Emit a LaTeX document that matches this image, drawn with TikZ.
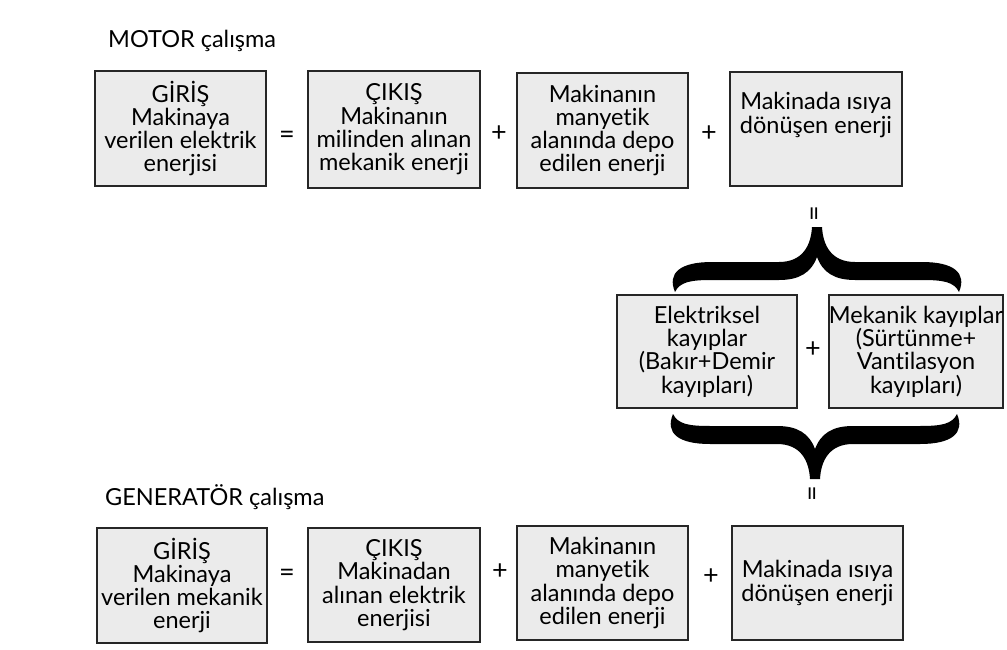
\documentclass[tikz,border=0pt]{standalone}
\usepackage{fontspec}
\setmainfont[Ligatures=NoCommon]{Lato}
\tikzset{
  box/.style={draw=black!85,line width=1.4pt,fill=black!8,align=center,inner sep=0pt,
    font=\fontsize{23.5}{23.3}\selectfont},
  boxtext/.style={align=center,inner sep=0pt,font=\fontsize{23.5}{23.3}\selectfont},
  op/.style={inner sep=0pt,font=\fontsize{27}{28}\selectfont},
  heading/.style={anchor=base west,inner sep=0pt,font=\fontsize{23.5}{24}\selectfont},
  fatbrace/.pic={
    \fill (-142,21) .. controls (-150,2) and (-137,-9) .. (-105,-9)
      -- (-38,-9) .. controls (-14,-9) and (-6,-26) .. (-5,-44)
      -- (5,-44) .. controls (6,-26) and (14,-9) .. (38,-9)
      -- (105,-9) .. controls (137,-9) and (150,2) .. (142,21)
      .. controls (137,11) and (127,9) .. (105,9)
      -- (38,9) .. controls (18,9) and (6,2) .. (0,-14)
      .. controls (-6,2) and (-18,9) .. (-38,9)
      -- (-105,9) .. controls (-127,9) and (-137,11) .. (-142,21) -- cycle;
  }
}
\begin{document}
\begin{tikzpicture}[x=1pt,y=-1pt]
\useasboundingbox (0,0) rectangle (1007,650);
% MOTOR
\node[heading] (tmotor) at (108,48) {MOTOR çalışma};
\node[box,minimum width=171pt,minimum height=115pt] (mg) at (180.5,128.5) {GİRİŞ\\Makinaya\\verilen elektrik\\enerjisi};
\node[box,minimum width=172pt,minimum height=117pt] (mc) at (394,129.5) {ÇIKIŞ\\Makinanın\\milinden alınan\\mekanik enerji};
\node[box,minimum width=171pt,minimum height=115pt] (mm) at (602.5,130.5) {Makinanın\\manyetik\\alanında depo\\edilen enerji};
\node[box,minimum width=172pt,minimum height=114pt] (mh) at (816,129) {};
\node[boxtext] (mht) at (816,115) {Makinada ısıya\\dönüşen enerji};
\node[op] (meq) at (287,137) {=};
\node[op] (mp1) at (499,134) {+};
\node[op] (mp2) at (709,134) {+};
% losses
\node[op,rotate=90] (veq1) at (817,214) {=};
\pic at (817,271) {fatbrace};
\node[box,minimum width=180pt,minimum height=113pt] (el) at (707,351.5) {Elektriksel\\kayıplar\\(Bakır+Demir\\kayıpları)};
\node[box,minimum width=170pt,minimum height=113pt] (mk) at (916,351.5) {Mekanik kayıplar\\(Sürtünme+\\Vantilasyon\\kayıpları)};
\node[op] (lp) at (813,350) {+};
\pic[yscale=-1] at (815,435) {fatbrace};
\node[op,rotate=90] (veq2) at (815,494) {=};
% GENERATOR
\node[heading] (tgen) at (105,505) {GENERATÖR çalışma};
\node[box,minimum width=170pt,minimum height=115pt] (gg) at (182,585.5) {GİRİŞ\\Makinaya\\verilen mekanik\\enerji};
\node[box,minimum width=172pt,minimum height=114pt] (gc) at (394,585) {ÇIKIŞ\\Makinadan\\alınan elektrik\\enerjisi};
\node[box,minimum width=171pt,minimum height=114pt] (gm) at (602.5,583) {Makinanın\\manyetik\\alanında depo\\edilen enerji};
\node[box,minimum width=171pt,minimum height=114pt] (gh) at (817.5,583) {Makinada ısıya\\dönüşen enerji};
\node[op] (geq) at (287,575) {=};
\node[op] (gp1) at (500,572) {+};
\node[op] (gp2) at (711,577) {+};
\end{tikzpicture}
\end{document}
